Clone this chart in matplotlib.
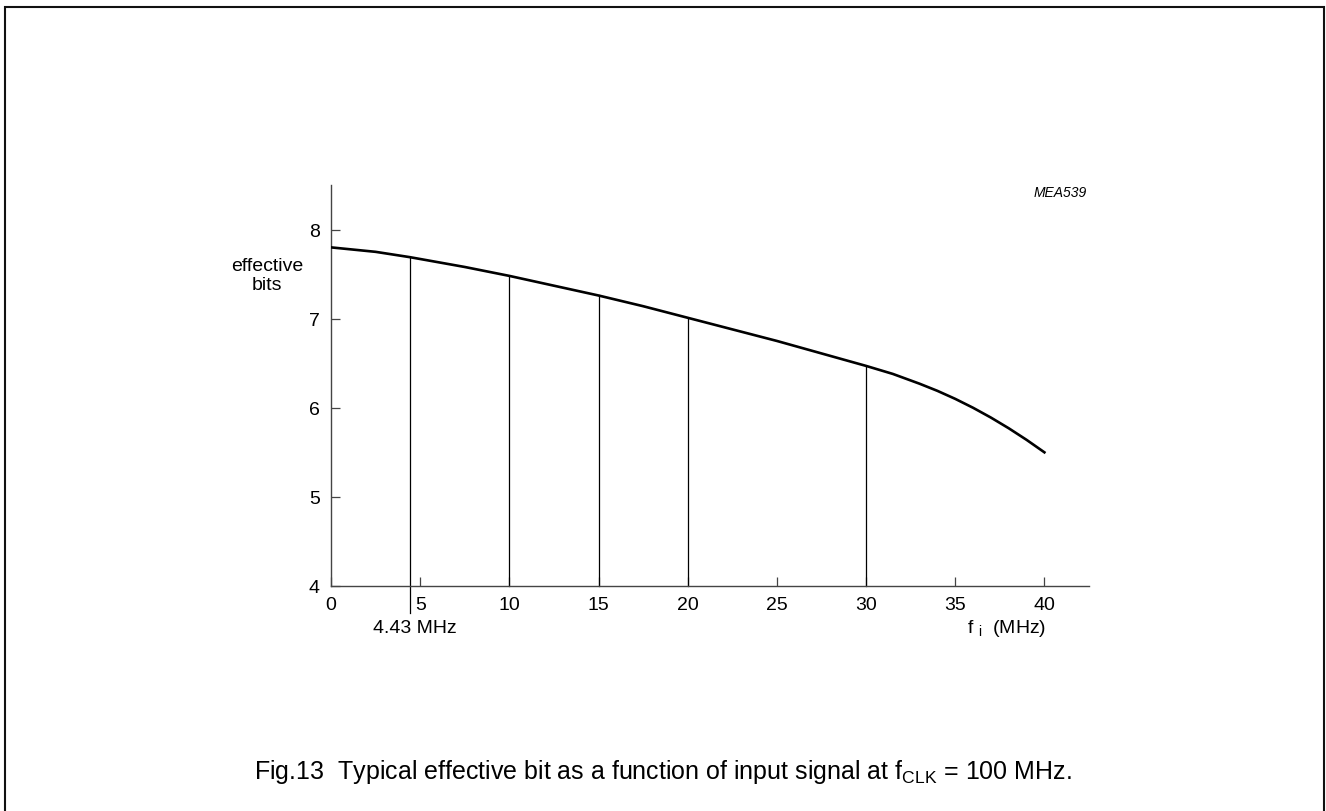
import matplotlib
matplotlib.use("Agg")
import matplotlib.pyplot as plt
from matplotlib.patches import Rectangle

plt.rcParams["font.family"] = ["Liberation Sans", "DejaVu Sans"]
plt.rcParams["mathtext.fontset"] = "custom"
plt.rcParams["mathtext.rm"] = "Liberation Sans"
plt.rcParams["mathtext.it"] = "Liberation Sans:italic"

# curve: input frequency (MHz) -> effective bits
FREQ = [0, 2.5, 4.43, 7.5, 10, 12.5, 15, 17.5, 20, 22.5, 25, 27.5, 30,
        31.5, 33, 34, 35, 36, 37, 38, 39, 40]
BITS = [7.80, 7.75, 7.69, 7.58, 7.48, 7.37, 7.26, 7.14, 7.01, 6.88, 6.75, 6.61, 6.47,
        6.38, 6.27, 6.19, 6.10, 6.00, 5.89, 5.77, 5.64, 5.50]

# marker lines dropped from the curve to the axis
DROP_F = [4.43, 10, 15, 20, 30]
DROP_B = [7.69, 7.48, 7.26, 7.01, 6.47]

XTICKS = [0, 5, 10, 15, 20, 25, 30, 35, 40]
YTICKS = [4, 5, 6, 7, 8]

W, H = 1326, 812
fig = plt.figure(figsize=(W / 100, H / 100), dpi=100)
ax = fig.add_axes([331 / W, 1 - 587 / H, (1089 - 331) / W, (587 - 186) / H])

ax.plot(FREQ, BITS, color="black", lw=1.9, solid_joinstyle="round", zorder=3)
for i, (f, b) in enumerate(zip(DROP_F, DROP_B)):
    lo = 3.70 if i == 0 else 4.0   # the 4.43 MHz line runs below the axis
    ax.plot([f, f], [lo, b], color="black", lw=0.9, clip_on=False, zorder=2)

ax.set_xlim(0, 42.5)
ax.set_ylim(4, 8.5)
ax.set_xticks(XTICKS)
ax.set_yticks(YTICKS)
ax.tick_params(direction="in", length=6.5, width=0.9, color="#444444",
               labelsize=14, pad=7.5)
ax.tick_params(axis="y", pad=8)
for s in ("top", "right"):
    ax.spines[s].set_visible(False)
for s in ("left", "bottom"):
    ax.spines[s].set_color("#444444")
    ax.spines[s].set_linewidth(1.0)

fig.text(267 / W, 1 - 276 / H, "effective\nbits", ha="center", va="center",
         fontsize=14, linespacing=1.1)
fig.text(415 / W, 1 - 629 / H, "4.43 MHz", ha="center", va="center", fontsize=14)
fig.text(967 / W, 1 - 629 / H, r"f $_\mathrm{i}$  (MHz)", ha="left", va="center",
         fontsize=14)
fig.text(1087 / W, 1 - 193 / H, "MEA539", ha="right", va="center",
         fontsize=10, style="italic")
fig.text(0.5, 1 - 779 / H,
         r"Fig.13  Typical effective bit as a function of input signal at f$_\mathrm{CLK}$ = 100 MHz.",
         ha="center", va="baseline", fontsize=18)

# page frame (bottom edge lies beyond the picture)
fig.patches.append(Rectangle((4.5 / W, -0.05), (1324 - 4.5) / W, 1.05 - 7.5 / H,
                             transform=fig.transFigure, fill=False,
                             edgecolor="#111111", lw=1.5))

fig.savefig("out.png", dpi=100)
